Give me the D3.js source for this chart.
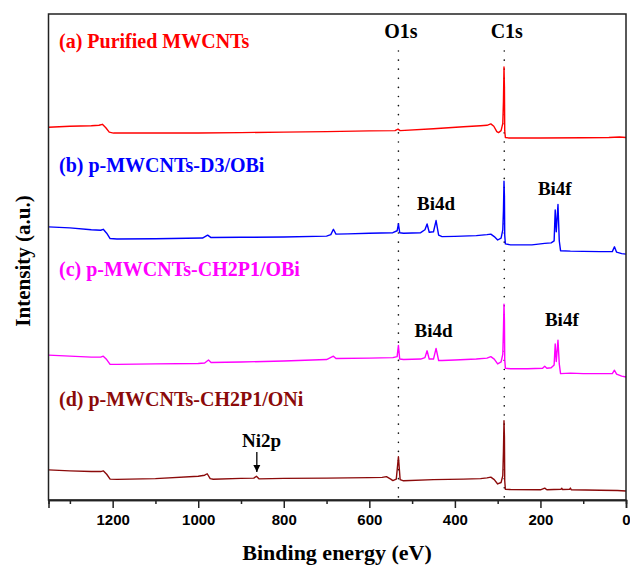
<!DOCTYPE html>
<html>
<head>
<meta charset="utf-8">
<script src="https://cdn.jsdelivr.net/npm/d3@7"></script>
<style>
  body { margin: 0; background: #fff; }
  svg { display: block; }
</style>
</head>
<body>
<script>
// XPS survey spectra, binding energy (eV) vs intensity (a.u., offset traces)
const specA = [[1350,76.7],[1300,76.9],[1250,77.0],[1232,77.1],[1224,77.3],[1216,76.6],[1208,75.7],[1198,75.5],
  [1100,75.5],[1000,75.5],[900,75.6],[800,75.7],[700,75.8],[600,75.95],[540,76.0],[533,76.3],[528,76.0],
  [450,76.4],[380,76.8],[340,77.0],[325,77.1],[316,77.4],[309,76.9],[302,75.8],[298,75.6],[292,76.0],
  [288,77.5],[286.5,82],[285.2,89.1],[284.2,85],[283.5,76],[282,74.6],[275,74.5],[200,74.5],[100,74.55],
  [40,74.6],[15,74.7],[0,74.6]];

const specB = [[1350,56.2],[1300,56.0],[1250,55.6],[1228,55.5],[1222,55.7],[1214,54.9],[1206,53.8],[1190,53.7],
  [1100,53.75],[990,53.9],[978,54.5],[970,54.0],[900,54.05],[800,54.1],[700,54.3],[690,54.6],[684,55.7],
  [678,54.7],[650,54.75],[600,54.9],[545,55.0],[535,55.4],[532,56.8],[529,55.0],[520,54.9],[480,55.0],
  [470,55.6],[465,56.8],[460,55.1],[450,55.2],[444,57.5],[438,54.5],[430,54.2],[400,54.25],[350,54.4],
  [325,54.6],[316,54.7],[308,54.2],[300,53.5],[292,53.9],[288,55.6],[286.5,59.5],[285.2,65.6],[284.2,62.5],
  [283.5,54.5],[282,52.7],[270,52.5],[220,52.5],[190,52.8],[175,52.9],[168,53.3],[165.5,59.7],[163,55.2],
  [159,60.8],[156,53.3],[153,51.3],[130,51.2],[100,51.15],[60,51.1],[32,51.1],[27,52.1],[22,51.0],
  [10,50.7],[0,50.6]];

const specC = [[1350,29.8],[1300,29.6],[1250,29.4],[1228,29.4],[1222,29.6],[1214,28.9],[1206,27.9],[1190,27.9],
  [1100,28.0],[1000,28.1],[985,28.2],[976,28.8],[970,28.3],[900,28.4],[800,28.6],[700,28.9],[684,29.6],
  [678,29.1],[600,29.2],[545,29.3],[535,29.5],[532,31.8],[529,29.0],[520,28.9],[480,29.0],[470,29.3],
  [465,30.7],[460,29.0],[450,29.0],[444,31.2],[438,28.7],[430,28.7],[400,28.8],[350,29.0],[325,29.2],
  [316,29.5],[308,29.0],[300,28.0],[292,28.4],[288,30.0],[286.5,35.0],[285.2,40.3],[284.2,37.0],[283.5,29.0],
  [282,27.1],[270,27.0],[230,27.0],[195,27.1],[190,27.5],[185,27.1],[175,27.2],[168,27.8],[165.5,32.1],
  [163,28.5],[159,32.9],[156,28.0],[153,26.0],[130,26.1],[100,26.0],[60,26.0],[32,26.0],[27,26.7],
  [22,25.9],[10,25.5],[0,25.3]];

const specD = [[1350,6.2],[1300,6.0],[1250,5.85],[1228,5.85],[1222,6.0],[1214,5.3],[1206,4.3],[1190,4.25],
  [1100,4.4],[1000,4.9],[985,5.1],[979,5.4],[972,4.4],[965,4.26],[900,4.45],[870,4.5],[864,4.9],[858,4.35],
  [800,4.45],[700,4.5],[600,4.6],[570,4.65],[560,4.8],[550,4.3],[545,4.0],[537,4.3],[532,8.9],[528,4.2],
  [520,3.95],[450,4.2],[380,4.3],[340,4.4],[325,4.55],[316,4.7],[308,4.2],[300,3.3],[292,3.6],[288,5.0],
  [286.5,10.0],[285.2,16.3],[284.2,13.0],[283.5,4.0],[282,2.2],[270,2.15],[200,2.1],[190,2.45],[185,2.1],
  [152,2.2],[150,2.4],[148,2.15],[132,2.2],[130,2.45],[128,2.1],[60,2.0],[20,1.95],[0,1.85]];

const seriesNames = ["(a) Purified MWCNTs", "(b) p-MWCNTs-D3/OBi", "(c) p-MWCNTs-CH2P1/OBi", "(d) p-MWCNTs-CH2P1/ONi"];
const seriesColors = ["#ff0000", "#0000ff", "#ff00ff", "#8b0a0a"];
const refLines = [{ name: "O1s", ev: 532 }, { name: "C1s", ev: 284.6 }];
const majorTicks = [1200, 1000, 800, 600, 400, 200, 0];
const minorTicks = [1300, 1100, 900, 700, 500, 300, 100];

const width = 630, height = 565;
const plotLeft = 48.5, plotRight = 626, plotTop = 14, plotBottom = 500;
const serif = "'Liberation Serif', 'Times New Roman', serif";

const svg = d3.select("body").append("svg")
    .attr("width", width)
    .attr("height", height)
    .attr("viewBox", `0 0 ${width} ${height}`);

const x = d3.scaleLinear().domain([1350, 0]).range([plotLeft, plotRight]);
const y = d3.scaleLinear().domain([0, 100]).range([plotBottom, plotTop]);

// dotted reference lines
svg.append("g").selectAll("line")
    .data(refLines)
    .enter()
    .append("line")
    .attr("x1", d => x(d.ev)).attr("x2", d => x(d.ev))
    .attr("y1", y(92.4)).attr("y2", plotBottom)
    .attr("stroke", "#111")
    .attr("stroke-width", 1.6)
    .attr("stroke-linecap", "round")
    .attr("stroke-dasharray", "0.1,9");

svg.append("g").selectAll("text")
    .data(refLines)
    .enter()
    .append("text")
    .attr("x", d => x(d.ev) + 2.5)
    .attr("y", 38)
    .attr("text-anchor", "middle")
    .style("font-family", serif)
    .style("font-weight", "bold")
    .style("font-size", "20px")
    .text(d => d.name);

// spectra
const line = d3.line().x(d => x(d[0])).y(d => y(d[1]));
const spectra = [specA, specB, specC, specD];
svg.append("g").selectAll("path")
    .data(spectra)
    .enter()
    .append("path")
    .attr("d", line)
    .attr("fill", "none")
    .attr("stroke", (d, i) => seriesColors[i])
    .attr("stroke-width", 1.4)
    .attr("stroke-linejoin", "round");

// series labels
const labelY = [48, 171.5, 275.5, 406];
svg.append("g").selectAll("text")
    .data(seriesNames)
    .enter()
    .append("text")
    .attr("x", 59)
    .attr("y", (d, i) => labelY[i])
    .attr("fill", (d, i) => seriesColors[i])
    .style("font-family", serif)
    .style("font-weight", "bold")
    .style("font-size", "20px")
    .text(d => d);

// peak annotations
const notes = [
    { t: "Bi4d", ev: 444, y: 209.5 },
    { t: "Bi4f", ev: 166.5, y: 194.5 },
    { t: "Bi4d", ev: 450, y: 337 },
    { t: "Bi4f", ev: 150, y: 326 },
    { t: "Ni2p", ev: 852, y: 446.5 }
];
svg.append("g").selectAll("text")
    .data(notes)
    .enter()
    .append("text")
    .attr("x", d => x(d.ev))
    .attr("y", d => d.y)
    .attr("text-anchor", "middle")
    .style("font-family", serif)
    .style("font-weight", "bold")
    .style("font-size", "19px")
    .text(d => d.t);

// Ni2p arrow
svg.append("defs").append("marker")
    .attr("id", "arrow")
    .attr("viewBox", "0 0 10 10")
    .attr("refX", 10).attr("refY", 5)
    .attr("markerWidth", 7).attr("markerHeight", 9)
    .attr("markerUnits", "userSpaceOnUse")
    .attr("orient", "auto")
    .append("path")
    .attr("d", "M0,0 L10,5 L0,10 z")
    .attr("fill", "#000");

svg.append("line")
    .attr("x1", x(863)).attr("x2", x(863))
    .attr("y1", 452).attr("y2", 472)
    .attr("stroke", "#000")
    .attr("stroke-width", 1.3)
    .attr("marker-end", "url(#arrow)");

// frame
svg.append("rect")
    .attr("x", plotLeft).attr("y", plotTop)
    .attr("width", plotRight - plotLeft).attr("height", plotBottom - plotTop)
    .attr("fill", "none")
    .attr("stroke", "#222")
    .attr("stroke-width", 1.5);

// x axis
const axisMajor = svg.append("g")
    .attr("transform", `translate(0,${plotBottom})`)
    .call(d3.axisBottom(x).tickValues(majorTicks).tickSize(8).tickPadding(6).tickFormat(d3.format("d")));
const axisMinor = svg.append("g")
    .attr("transform", `translate(0,${plotBottom})`)
    .call(d3.axisBottom(x).tickValues(minorTicks).tickSize(4).tickFormat(""));
[axisMajor, axisMinor].forEach(g => {
    g.select(".domain").attr("stroke", "#222").attr("stroke-width", 1.5);
    g.selectAll(".tick line").attr("stroke", "#222").attr("stroke-width", 1.5);
});
axisMajor.selectAll(".tick text")
    .attr("fill", "#000")
    .style("font-family", "'Liberation Sans', Arial, sans-serif")
    .style("font-weight", "bold")
    .style("font-size", "15px");

// axis titles
svg.append("text")
    .attr("x", 337)
    .attr("y", 560)
    .attr("text-anchor", "middle")
    .style("font-family", serif)
    .style("font-weight", "bold")
    .style("font-size", "22px")
    .text("Binding energy (eV)");

svg.append("text")
    .attr("transform", "translate(30,261) rotate(-90)")
    .attr("text-anchor", "middle")
    .style("font-family", serif)
    .style("font-weight", "bold")
    .style("font-size", "21px")
    .text("Intensity (a.u.)");
</script>
</body>
</html>
